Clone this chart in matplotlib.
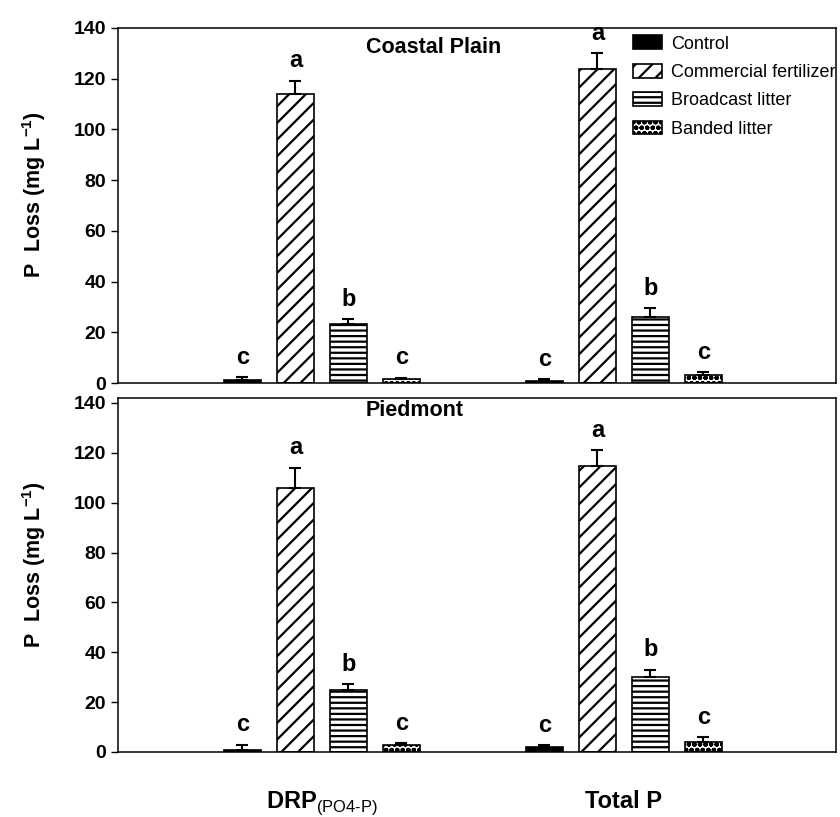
import matplotlib.pyplot as plt
import numpy as np

plt.rcParams['font.family'] = ['Liberation Sans', 'DejaVu Sans']
plt.rcParams['mathtext.fontset'] = 'custom'
plt.rcParams['mathtext.rm'] = 'Liberation Sans'
plt.rcParams['mathtext.bf'] = 'Liberation Sans:bold'
plt.rcParams['hatch.linewidth'] = 1.6

groups = [r'$\mathbf{DRP}_{\mathrm{(PO4\text{-}P)}}$', 'Total P']
treatments = ['Control', 'Commercial fertilizer', 'Broadcast litter', 'Banded litter']
hatches = ['', '//', '---', 'ooo']
colors = ['black', 'white', 'white', 'white']

# Coastal Plain: rows = treatment, cols = DRP, Total P
coastal_mean = [[1.2, 0.8], [113.8, 124.0], [23.1, 25.9], [1.5, 3.1]]
coastal_err = [[1.2, 0.8], [5.4, 6.0], [2.0, 3.6], [0.6, 1.3]]
coastal_letters = [['c', 'c'], ['a', 'a'], ['b', 'b'], ['c', 'c']]

# Piedmont
piedmont_mean = [[0.8, 2.2], [106.0, 114.6], [24.7, 30.0], [3.0, 4.0]]
piedmont_err = [[2.2, 0.6], [8.0, 6.4], [2.4, 3.0], [0.6, 2.0]]
piedmont_letters = [['c', 'c'], ['a', 'a'], ['b', 'b'], ['c', 'c']]

yticks = [0, 20, 40, 60, 80, 100, 120, 140]


def draw_panel(ax, means, errs, letters, title, title_y, ymax):
    x = np.arange(len(groups))
    step = 0.1755
    width = 0.1225
    for i, name in enumerate(treatments):
        pos = x + (i - 1.5) * step
        m = np.array(means[i])
        e = np.array(errs[i])
        ax.bar(pos, m, width, color=colors[i], edgecolor='black', linewidth=1.2,
               hatch=hatches[i], label=name, zorder=2)
        ax.errorbar(pos, m, yerr=[np.zeros_like(e), e], fmt='none', ecolor='black',
                    elinewidth=1.5, capsize=4.5, capthick=1.5, zorder=3)
        for j in range(len(groups)):
            ax.annotate(letters[i][j], (pos[j], m[j] + e[j]), xytext=(0, 6),
                        textcoords='offset points', ha='center', va='bottom',
                        fontsize=17, fontweight='bold')
    ax.set_xlim(-0.675, 1.702)
    ax.set_ylim(0, ymax)
    ax.set_yticks(yticks)
    ax.tick_params(axis='y', direction='out', length=5, labelsize=14, width=1)
    for lab in ax.get_yticklabels():
        lab.set_fontweight('bold')
    ax.set_ylabel(r'P  Loss (mg L$^{\mathbf{-1}}$)', fontsize=15.5, fontweight='bold')
    ax.yaxis.set_label_coords(-0.097, 0.53)
    ax.text(0.345, title_y, title, transform=ax.transAxes, fontsize=15.5,
            fontweight='bold', ha='left', va='center')
    for s in ax.spines.values():
        s.set_linewidth(1.1)


fig = plt.figure(figsize=(8.4, 8.17), dpi=100)
ax1 = fig.add_axes([118 / 840, 1 - 383 / 817, 718 / 840, 355 / 817])
ax2 = fig.add_axes([118 / 840, 1 - 752 / 817, 718 / 840, 354 / 817])

draw_panel(ax1, coastal_mean, coastal_err, coastal_letters, 'Coastal Plain', 0.946, 140)
draw_panel(ax2, piedmont_mean, piedmont_err, piedmont_letters, 'Piedmont', 0.966, 142)

ax1.set_xticks([])
ax2.set_xticks(np.arange(len(groups)))
ax2.set_xticklabels(groups, fontsize=17, fontweight='bold')
ax2.tick_params(axis='x', length=0, pad=27)

ax1.legend(loc='upper left', bbox_to_anchor=(0.695, 1.025), frameon=False,
           fontsize=13, handlelength=1.6, handleheight=0.8, labelspacing=0.62,
           handletextpad=0.5)

fig.savefig('out.png', dpi=100)
